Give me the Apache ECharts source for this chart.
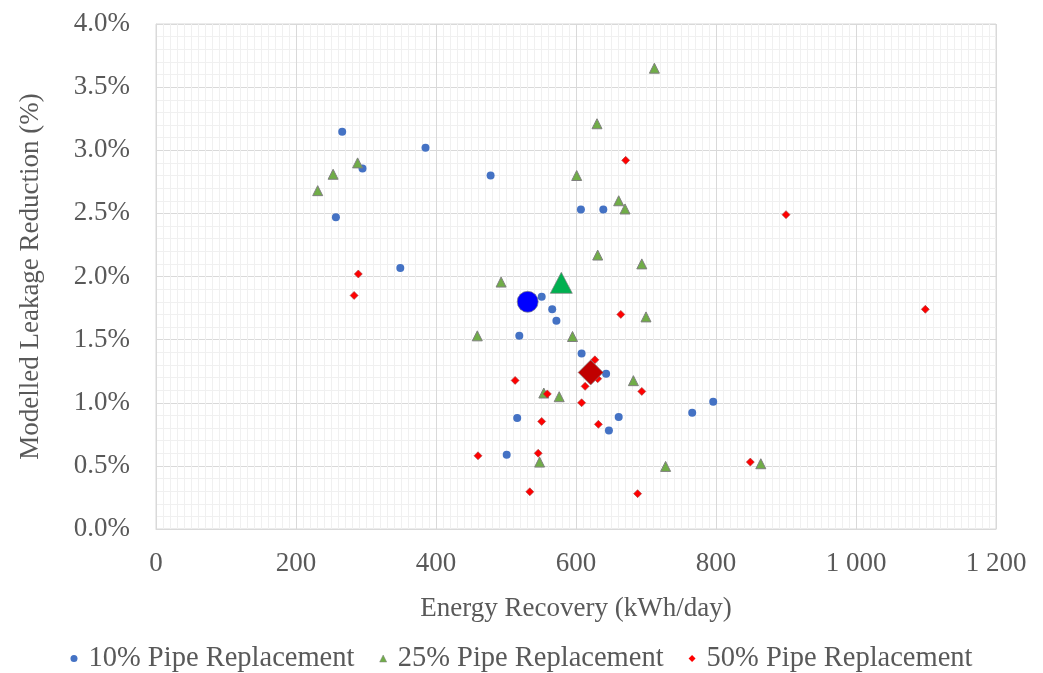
<!DOCTYPE html>
<html>
<head>
<meta charset="utf-8">
<script src="https://cdn.jsdelivr.net/npm/echarts@6/dist/echarts.min.js"></script>
<style>html,body{margin:0;padding:0;background:#fff}#c{width:1043px;height:673px}</style>
</head>
<body>
<div id="c"></div>
<script>
// Energy recovery (kWh/day), modelled leakage reduction (%)
const pipe10 = [[266,3.147],[385,3.02],[295,2.856],[257,2.47],[349,2.067],[478,2.80],[607,2.53],[639,2.53],[551,1.84],[566,1.74],[572,1.65],[519,1.53],[608,1.39],[643,1.23],[796,1.008],[766,0.921],[516,0.879],[661,0.887],[647,0.781],[501,0.589]];
const pipe25 = [[712,3.65],[630,3.21],[288,2.90],[253,2.81],[231,2.68],[601,2.80],[661,2.60],[670,2.535],[631,2.17],[694,2.10],[493,1.956],[700,1.68],[459,1.53],[595,1.525],[682,1.175],[554,1.077],[576,1.048],[548,0.53],[728,0.496],[864,0.517]];
const pipe50 = [[671,2.92],[900,2.49],[289,2.02],[283,1.85],[664,1.70],[1099,1.74],[627,1.34],[631,1.19],[613,1.13],[513,1.177],[694,1.09],[559,1.07],[608,1.00],[551,0.852],[632,0.829],[460,0.58],[546,0.60],[849,0.53],[534,0.295],[688,0.28]];
const mean10 = [[531,1.80]];
const mean25 = [[579,1.95]];
const mean50 = [[621,1.24]];
const seriesNames = ['10% Pipe Replacement','25% Pipe Replacement','50% Pipe Replacement'];
const xTitle = 'Energy Recovery (kWh/day)';
const yTitle = 'Modelled Leakage Reduction (%)';

const font = '"Liberation Serif","Times New Roman",serif';
const txt = '#595959';
const chart = echarts.init(document.getElementById('c'));
chart.setOption({
  animation: false,
  textStyle: {fontFamily: font},
  grid: {left: 156, right: 47, top: 24, bottom: 144, show: true, borderColor: '#d9d9d9', borderWidth: 1},
  legend: {
    bottom: -5, left: 'center', itemWidth: 7, itemHeight: 7, itemGap: 25,
    data: [
      {name: seriesNames[0], icon: 'circle', itemStyle: {color: '#4472C4', borderWidth: 0}},
      {name: seriesNames[1], icon: 'triangle', itemStyle: {color: '#70AD47', borderColor: '#7f7f7f', borderWidth: 0.5}},
      {name: seriesNames[2], icon: 'diamond', itemStyle: {color: '#FF0000', borderWidth: 0}}
    ],
    textStyle: {fontFamily: font, fontSize: 28.5, color: txt, padding: [0, 0, 0, 6]}
  },
  xAxis: {
    type: 'value', min: 0, max: 1200, interval: 200,
    name: xTitle, nameLocation: 'middle', nameGap: 66,
    nameTextStyle: {fontFamily: font, fontSize: 27, color: txt},
    axisLine: {show: true, lineStyle: {color: '#d9d9d9'}},
    axisTick: {show: false},
    axisLabel: {fontFamily: font, fontSize: 27, color: txt, margin: 21,
      formatter: v => String(v).replace(/\B(?=(\d{3})+(?!\d))/g, ' ')},
    splitLine: {show: true, lineStyle: {color: '#d9d9d9'}},
    minorTick: {show: false, splitNumber: 20},
    minorSplitLine: {show: true, lineStyle: {color: '#f0f0f0'}}
  },
  yAxis: {
    type: 'value', min: 0, max: 4, interval: 0.5,
    name: yTitle, nameLocation: 'middle', nameGap: 112, nameRotate: 90,
    nameTextStyle: {fontFamily: font, fontSize: 27, color: txt},
    axisLine: {show: true, lineStyle: {color: '#d9d9d9'}},
    axisTick: {show: false},
    axisLabel: {fontFamily: font, fontSize: 27, color: txt, margin: 26, formatter: v => v.toFixed(1) + '%'},
    splitLine: {show: true, lineStyle: {color: '#d9d9d9'}},
    minorTick: {show: false, splitNumber: 5},
    minorSplitLine: {show: true, lineStyle: {color: '#f0f0f0'}}
  },
  series: [
    {name: seriesNames[0], type: 'scatter', data: pipe10, symbol: 'circle', symbolSize: 8,
      itemStyle: {color: '#4472C4', opacity: 1}},
    {name: seriesNames[1], type: 'scatter', data: pipe25, symbol: 'triangle', symbolSize: 10,
      itemStyle: {color: '#70AD47', borderColor: '#7f7f7f', borderWidth: 1, opacity: 1}},
    {name: seriesNames[2], type: 'scatter', data: pipe50, symbol: 'diamond', symbolSize: 8,
      itemStyle: {color: '#FF0000', borderColor: '#a04040', borderWidth: 0.6, opacity: 1}},
    {name: 'mean10', type: 'scatter', data: mean10, symbol: 'circle', symbolSize: 21,
      itemStyle: {color: '#0000FF', borderColor: '#7f7f7f', borderWidth: 0.7, opacity: 1}},
    {name: 'mean25', type: 'scatter', data: mean25, symbol: 'triangle', symbolSize: [22, 21],
      itemStyle: {color: '#00B050', borderColor: '#7f7f7f', borderWidth: 0.7, opacity: 1}},
    {name: 'mean50', type: 'scatter', data: mean50, symbol: 'diamond', symbolSize: 25,
      itemStyle: {color: '#C00000', borderColor: '#7f7f7f', borderWidth: 0.7, opacity: 1}}
  ]
});
</script>
</body>
</html>
